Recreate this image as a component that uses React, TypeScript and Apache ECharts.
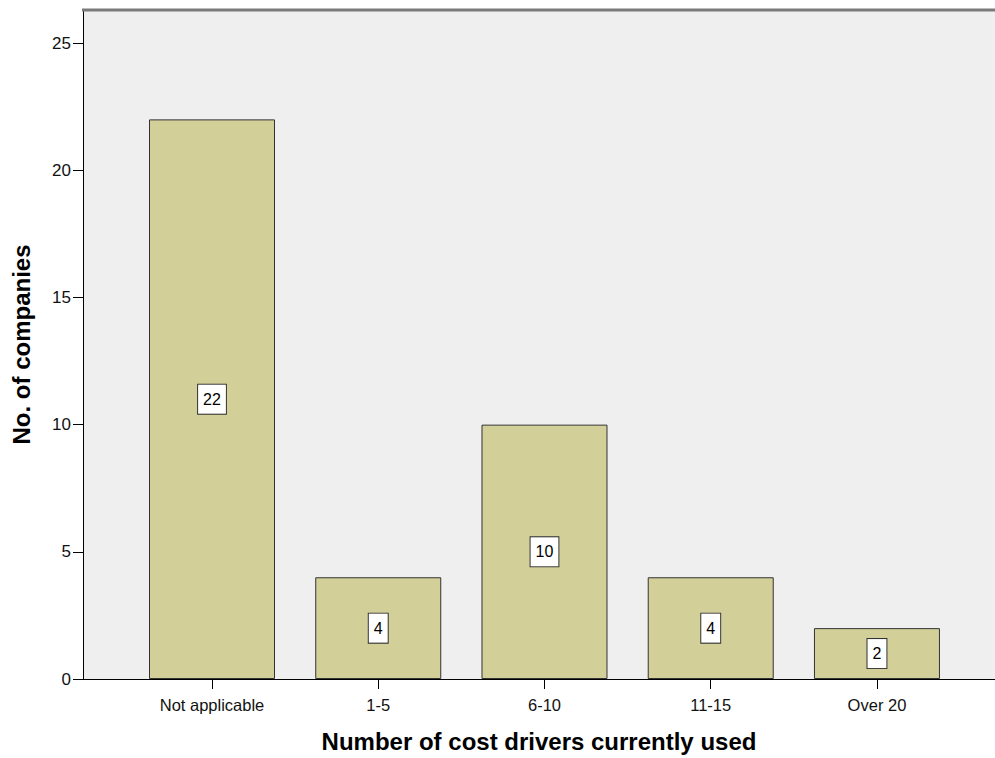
import React, { useEffect, useRef } from "react";
import * as echarts from "echarts";

const categories = ["Not applicable", "1-5", "6-10", "11-15", "Over 20"];
const companies = [22, 4, 10, 4, 2];
const yTicks = [0, 5, 10, 15, 20, 25];

const FONT = "'Liberation Sans', Arial, sans-serif";

export default function App() {
  const ref = useRef<HTMLDivElement>(null);

  useEffect(() => {
    if (!ref.current) return;
    const chart = echarts.init(ref.current, undefined, { renderer: "svg" });
    const positions = categories.map((_, i) => i);

    chart.setOption({
      animation: false,
      backgroundColor: "#ffffff",
      grid: {
        left: 83,
        right: 0,
        top: 10,
        bottom: 75,
        show: true,
        backgroundColor: "#efefef",
        borderWidth: 0,
      },
      // frame line along the top of the plot area (the right edge runs off the page)
      graphic: [
        {
          type: "line",
          shape: { x1: 82, y1: 10, x2: 995, y2: 10 },
          style: { stroke: "#7a7a7a", lineWidth: 3 },
          z: 10,
        },
      ],
      xAxis: {
        type: "value",
        min: -0.776,
        max: 4.71,
        name: "Number of cost drivers currently used",
        nameLocation: "middle",
        nameGap: 50,
        nameTextStyle: {
          fontFamily: FONT,
          fontSize: 24,
          fontWeight: "bold",
          color: "#000",
        },
        axisLine: {
          show: true,
          onZero: false,
          lineStyle: { color: "#000", width: 1 },
        },
        axisTick: {
          show: true,
          length: 10,
          customValues: positions,
          lineStyle: { color: "#000" },
        },
        axisLabel: {
          customValues: positions,
          formatter: (v: number) => categories[Math.round(v)] ?? "",
          fontFamily: FONT,
          fontSize: 16.5,
          color: "#111",
          margin: 17,
        },
        splitLine: { show: false },
      },
      yAxis: {
        type: "value",
        min: 0,
        max: 26.3,
        name: "No. of companies",
        nameLocation: "middle",
        nameGap: 50,
        nameTextStyle: {
          fontFamily: FONT,
          fontSize: 24,
          fontWeight: "bold",
          color: "#000",
        },
        axisLine: {
          show: true,
          onZero: false,
          lineStyle: { color: "#000", width: 1 },
        },
        axisTick: {
          show: true,
          length: 10,
          customValues: yTicks,
          lineStyle: { color: "#000" },
        },
        axisLabel: {
          customValues: yTicks,
          fontFamily: FONT,
          fontSize: 17,
          color: "#111",
          margin: 12,
        },
        splitLine: { show: false },
      },
      series: [
        {
          type: "bar",
          barWidth: 126,
          data: companies.map((v, i) => [i, v]),
          itemStyle: {
            color: "#d3cf99",
            borderColor: "#333",
            borderWidth: 1,
          },
          label: {
            show: true,
            position: "inside",
            formatter: (p: any) => String(p.value[1]),
            fontFamily: FONT,
            fontSize: 16,
            lineHeight: 21,
            color: "#000",
            backgroundColor: "#ffffff",
            borderColor: "#333",
            borderWidth: 1,
            padding: [4, 5, 4, 5],
          },
        },
      ],
    });

    return () => chart.dispose();
  }, []);

  return (
    <div
      ref={ref}
      style={{ position: "fixed", left: 0, top: 0, width: 995, height: 758 }}
    />
  );
}
